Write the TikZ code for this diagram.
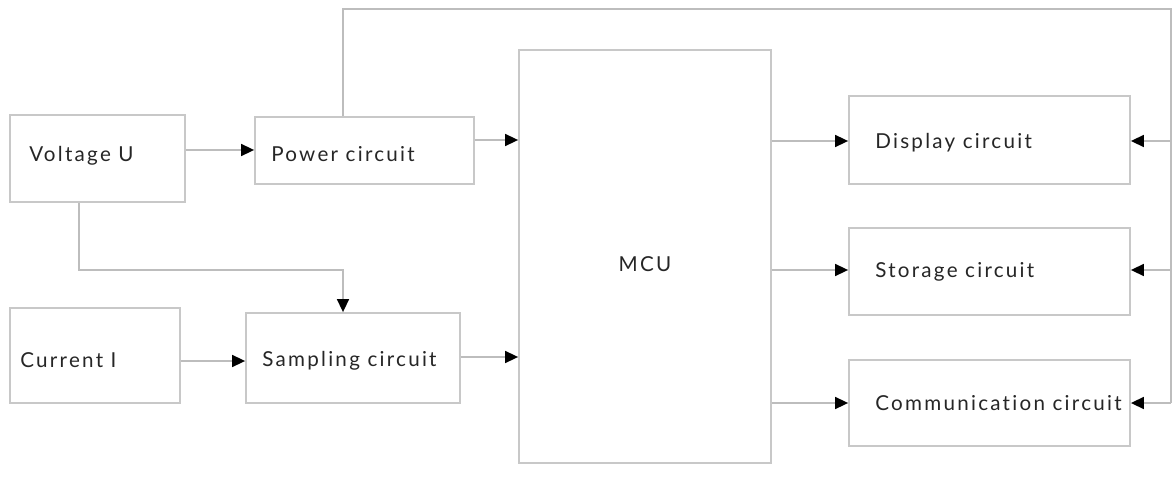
\documentclass[tikz,border=0pt]{standalone}
\usepackage{fontspec}
\setmainfont[LetterSpace=11,Ligatures={NoCommon,NoDiscretionary,NoRare}]{Lato}
\usetikzlibrary{arrows.meta,calc}
\definecolor{edge}{HTML}{BDBDBD}
\definecolor{boxline}{HTML}{C8C8C8}
\definecolor{ink}{HTML}{262626}
\tikzset{
  blk/.style={draw=boxline, line width=1.8pt, fill=white, rectangle, inner sep=0pt},
  txt/.style={text=ink, font=\fontsize{20.6}{24}\selectfont, inner sep=0pt, anchor=west},
  conn/.style={draw=edge, line width=1.6pt},
  arr/.style={conn, -{Triangle[length=13pt,width=12pt,fill=black,color=black]}, shorten >=0pt}
}
\begin{document}
\begin{tikzpicture}[x=1pt,y=-1pt]
\useasboundingbox (0,0) rectangle (1172,494);
% boxes
\node[blk, minimum width=175pt, minimum height=87pt] (volt) at (97.5,158.5) {};
\node[txt] (voltT) at ($(volt.west)+(20,-3)$) {Voltage U};
\node[blk, minimum width=219pt, minimum height=67pt] (power) at (364.5,150.5) {};
\node[txt] (powerT) at ($(power.west)+(17,4)$) {Power circuit};
\node[blk, minimum width=170pt, minimum height=95pt] (curr) at (95,355.5) {};
\node[txt] (currT) at ($(curr.west)+(11,5)$) {Current I};
\node[blk, minimum width=214pt, minimum height=90pt] (samp) at (353,358) {};
\node[txt] (sampT) at ($(samp.west)+(17,3)$) {Sampling circuit};
\node[blk, minimum width=252pt, minimum height=413pt] (mcu) at (645,256.5) {};
\node[text=ink, font=\fontsize{20.6}{24}\selectfont, inner sep=0pt] (mcuT) at (645,264) {MCU};
\node[blk, minimum width=281pt, minimum height=88pt] (disp) at (989.5,140) {};
\node[txt] (dispT) at ($(disp.west)+(27,3)$) {Display circuit};
\node[blk, minimum width=281pt, minimum height=87pt] (stor) at (989.5,271.5) {};
\node[txt] (storT) at ($(stor.west)+(27,0)$) {Storage circuit};
\node[blk, minimum width=281pt, minimum height=86pt] (comm) at (989.5,403) {};
\node[txt] (commT) at ($(comm.west)+(27,0)$) {Communication circuit};
% coordinates
\coordinate (pTop) at (343,9);
\coordinate (rTop) at (1171,9);
\coordinate (rD) at (1171,141);
\coordinate (rS) at (1171,270);
\coordinate (rC) at (1171,403);
\coordinate (vDown) at (79,270);
\coordinate (sTop) at (343,270);
% connectors
\draw[arr] (volt.east |- 0,150) -- (power.west |- 0,150);
\draw[arr] (curr.east |- 0,361) -- (samp.west |- 0,361);
\draw[arr] (power.east |- 0,140) -- (mcu.west |- 0,140);
\draw[arr] (samp.east |- 0,357) -- (mcu.west |- 0,357);
\draw[arr] (volt.south -| vDown) -- (vDown) -- (sTop) -- (samp.north -| sTop);
\draw[conn] (power.north -| pTop) -- (pTop) -- (rTop) -- (rC);
\draw[arr] (rD) -- (disp.east |- rD);
\draw[arr] (rS) -- (stor.east |- rS);
\draw[arr] (rC) -- (comm.east |- rC);
\draw[arr] (mcu.east |- 0,141) -- (disp.west |- 0,141);
\draw[arr] (mcu.east |- 0,270) -- (stor.west |- 0,270);
\draw[arr] (mcu.east |- 0,403) -- (comm.west |- 0,403);
\end{tikzpicture}
\end{document}
